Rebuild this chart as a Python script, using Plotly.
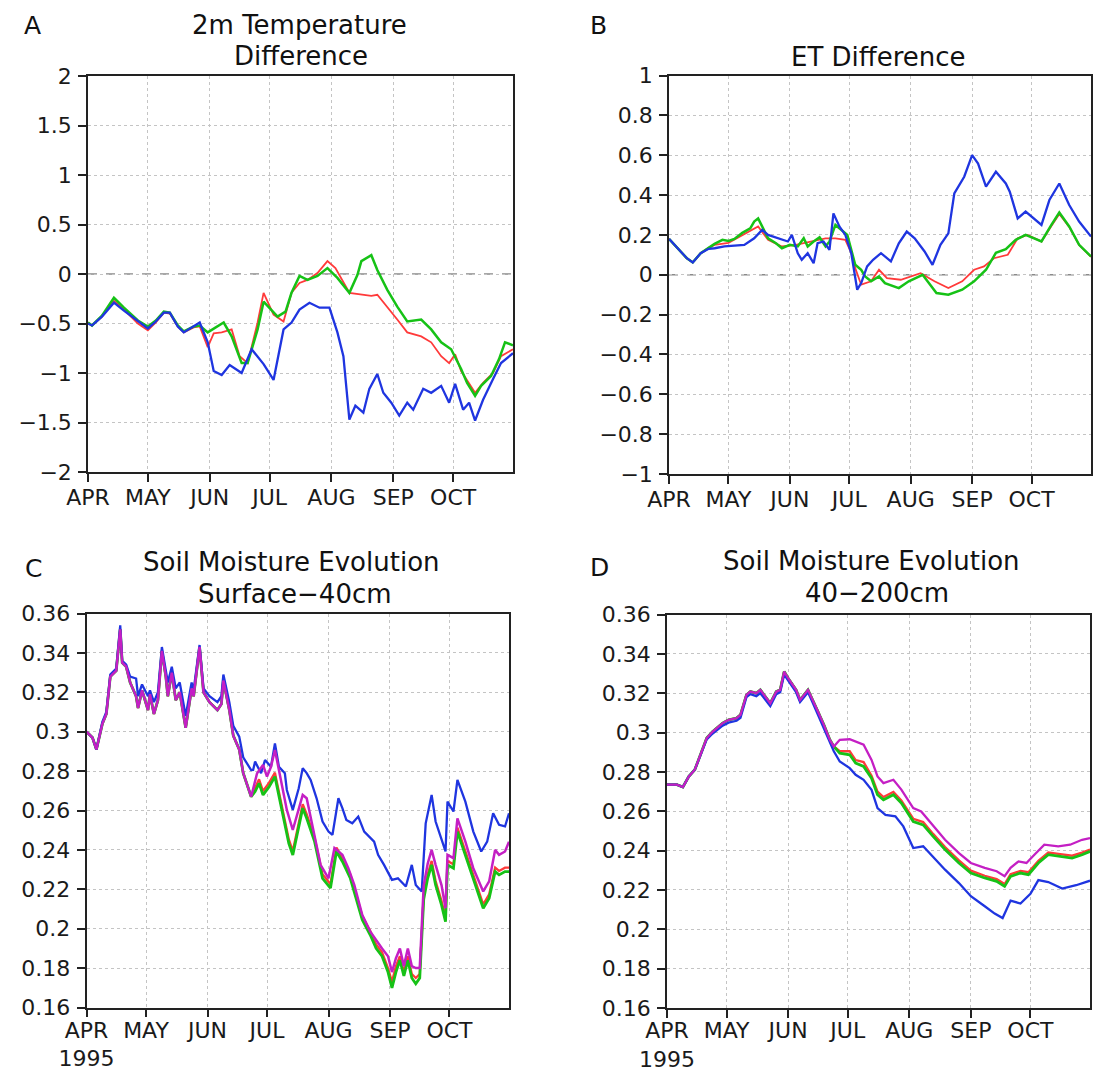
import pandas as pd
import plotly.graph_objects as go

# ---------------- data (days since 1 Apr 1995) ----------------
START = "1995-04-01"
month_ticks = ["1995-04-01", "1995-05-01", "1995-06-01", "1995-07-01",
               "1995-08-01", "1995-09-01", "1995-10-01"]
month_labels = ["APR", "MAY", "JUN", "JUL", "AUG", "SEP", "OCT"]
month_labels_year = ["APR<br>1995", "MAY", "JUN", "JUL", "AUG", "SEP", "OCT"]

# Panel A: 2m temperature difference
A_green_days = [0, 2, 7, 13, 18, 25, 30, 34, 38, 41, 45, 48, 53, 56,
                60, 64, 68, 72, 77, 80, 85, 88, 95, 99, 102, 106, 110, 115, 120, 125, 131, 135, 137, 142,
                145, 150, 155, 160, 167, 172, 177, 182, 187, 190, 194, 197, 202, 206, 209, 213]
A_green_vals = [-0.49, -0.52, -0.42, -0.24, -0.34, -0.47, -0.53, -0.47, -0.38, -0.39, -0.52, -0.58, -0.53, -0.52,
                -0.59, -0.54, -0.49, -0.63, -0.90, -0.90, -0.56, -0.28, -0.43, -0.38, -0.19, -0.02, -0.06, -0.02,
                0.06, -0.04, -0.19, -0.01, 0.13, 0.19, 0.04, -0.16, -0.33, -0.48, -0.46, -0.56, -0.69, -0.76,
                -0.96, -1.10, -1.23, -1.13, -1.03, -0.86, -0.69, -0.72]
A_red_days = [0, 2, 7, 13, 18, 25, 30, 34, 38, 41, 45, 48, 53, 56,
              60, 63, 67, 72, 76, 80, 85, 88, 93, 98, 102, 106, 110, 115, 120, 124, 131, 137, 142, 145,
              150, 155, 160, 167, 172, 177, 181, 184, 187, 192, 194, 198, 203, 207, 213]
A_red_vals = [-0.49, -0.52, -0.43, -0.27, -0.36, -0.50, -0.57, -0.49, -0.39, -0.40, -0.53, -0.59, -0.54, -0.53,
              -0.74, -0.60, -0.59, -0.56, -0.83, -0.90, -0.49, -0.19, -0.41, -0.48, -0.19, -0.09, -0.06, 0.01,
              0.13, 0.06, -0.19, -0.21, -0.22, -0.21, -0.33, -0.46, -0.59, -0.63, -0.69, -0.83, -0.90, -0.81,
              -0.98, -1.13, -1.20, -1.10, -1.00, -0.83, -0.76]
A_blue_days = [0, 2, 7, 13, 18, 25, 30, 34, 38, 41, 45, 48, 53, 56,
               60, 63, 67, 71, 74, 77, 82, 88, 93, 98, 102, 106, 111, 116, 121, 125, 128, 131, 134, 138,
               141, 145, 148, 152, 156, 160, 163, 168, 172, 177, 181, 184, 188, 191, 194, 198, 203, 207, 213]
A_blue_vals = [-0.50, -0.52, -0.43, -0.29, -0.37, -0.48, -0.55, -0.48, -0.39, -0.39, -0.53, -0.59, -0.53, -0.49,
               -0.69, -0.98, -1.02, -0.92, -0.96, -1.00, -0.76, -0.91, -1.07, -0.56, -0.49, -0.36, -0.29, -0.34,
               -0.34, -0.59, -0.83, -1.47, -1.33, -1.40, -1.16, -1.01, -1.20, -1.30, -1.43, -1.30, -1.37, -1.16,
               -1.20, -1.13, -1.30, -1.11, -1.37, -1.30, -1.48, -1.27, -1.06, -0.90, -0.80]

# Panel B: ET difference
B_green_days = [0, 5, 9, 12, 16, 20, 23, 27, 30, 33, 37, 41, 43, 45, 48, 50, 54, 57, 61, 65,
                68, 70, 73, 76, 79, 81, 84, 86, 90, 92, 94, 97, 99, 102, 106, 109, 116, 121, 128, 135,
                141, 148, 154, 160, 165, 170, 175, 180, 183, 188, 193, 197, 202, 207, 213]
B_green_vals = [0.18, 0.125, 0.083, 0.062, 0.108, 0.135, 0.155, 0.175, 0.17, 0.18, 0.21, 0.233, 0.267, 0.283,
                0.225, 0.183, 0.158, 0.133, 0.15, 0.142, 0.183, 0.142, 0.167, 0.188, 0.142, 0.167, 0.25, 0.233,
                0.2, 0.125, 0.05, 0.025, -0.008, -0.033, -0.008, -0.042, -0.067, -0.033, 0.0, -0.092,
                -0.1, -0.075, -0.033, 0.025, 0.11, 0.128, 0.175, 0.2, 0.188, 0.167, 0.25, 0.312, 0.242, 0.15, 0.092]
B_red_days = [0, 5, 9, 12, 16, 20, 23, 30, 37, 45, 50, 57, 64, 71, 79, 84, 89, 92, 94, 97,
              102, 106, 110, 117, 127, 134, 141, 148, 154, 159, 164, 171, 176, 181, 188, 193, 197, 202, 207, 213]
B_red_vals = [0.18, 0.125, 0.083, 0.062, 0.108, 0.135, 0.15, 0.16, 0.2, 0.242, 0.175, 0.142, 0.15, 0.167,
              0.183, 0.183, 0.175, 0.11, 0.033, -0.05, -0.033, 0.025, -0.017, -0.025, 0.008, -0.033, -0.067,
              -0.033, 0.025, 0.042, 0.083, 0.1, 0.183, 0.2, 0.167, 0.245, 0.305, 0.24, 0.15, 0.09]
B_blue_days = [0, 5, 9, 12, 16, 20, 23, 28, 33, 38, 43, 47, 50, 55, 60, 62, 65, 67, 70, 73,
               75, 78, 81, 83, 86, 89, 92, 95, 97, 100, 103, 107, 112, 116, 120, 124, 129, 133, 137, 141,
               144, 149, 153, 156, 160, 165, 170, 172, 176, 180, 184, 188, 192, 197, 202, 207, 213]
B_blue_vals = [0.18, 0.125, 0.083, 0.062, 0.108, 0.13, 0.133, 0.142, 0.145, 0.15, 0.183, 0.225, 0.2, 0.183,
               0.167, 0.2, 0.108, 0.075, 0.108, 0.058, 0.158, 0.167, 0.125, 0.308, 0.242, 0.2, 0.108, -0.075,
               -0.042, 0.042, 0.075, 0.108, 0.067, 0.158, 0.217, 0.183, 0.117, 0.05, 0.15, 0.208,
               0.408, 0.492, 0.6, 0.558, 0.442, 0.517, 0.458, 0.417, 0.283, 0.317, 0.283, 0.25, 0.375, 0.458,
               0.35, 0.267, 0.192]

# Panel C: soil moisture surface-40cm
C_early_days = [0, 3, 5, 8, 10, 12, 15, 17, 18, 20, 22, 25, 26, 28, 31, 32, 34, 36, 38, 40,
                41, 43, 45, 47, 50, 53, 54, 57, 59, 62, 66, 68, 69, 72, 74, 77, 79, 83]
C_shared_early = [0.300, 0.297, 0.291, 0.304, 0.309, 0.328, 0.331, 0.352, 0.335, 0.333, 0.325, 0.318, 0.312,
                  0.321, 0.311, 0.319, 0.309, 0.316, 0.341, 0.328, 0.318, 0.330, 0.316, 0.320, 0.302, 0.322,
                  0.318, 0.343, 0.320, 0.315, 0.311, 0.314, 0.326, 0.311, 0.298, 0.291, 0.279, 0.267]
C_blue_early = [0.300, 0.297, 0.291, 0.305, 0.310, 0.329, 0.332, 0.354, 0.336, 0.334, 0.328, 0.327, 0.318,
                0.324, 0.318, 0.321, 0.315, 0.320, 0.343, 0.332, 0.325, 0.333, 0.322, 0.325, 0.308, 0.325,
                0.321, 0.344, 0.322, 0.318, 0.315, 0.318, 0.329, 0.315, 0.303, 0.2975, 0.287, 0.2805]
C_magenta_days = [86, 89, 91, 93, 95, 98, 101, 104, 106, 109, 111, 114, 118, 122, 125, 129, 132, 135, 139, 143,
                  146, 149, 152, 154, 156, 158, 160, 162, 164, 166, 168, 170, 172, 174, 176, 179, 181, 182, 185,
                  187, 191, 195, 200, 203, 206, 208, 211, 213]
C_magenta_vals = [0.2789, 0.2831, 0.2772, 0.2822, 0.2907, 0.2755, 0.2603, 0.2501, 0.2569, 0.2679, 0.2662,
                  0.251, 0.2324, 0.2256, 0.2409, 0.2375, 0.2307, 0.2222, 0.207, 0.1986, 0.194, 0.190, 0.186,
                  0.178, 0.185, 0.190, 0.181, 0.190, 0.181, 0.180, 0.180, 0.222, 0.233, 0.240, 0.2324, 0.222,
                  0.2104, 0.2375, 0.2358, 0.256, 0.2442, 0.2307, 0.2189, 0.224, 0.240, 0.2375, 0.2392, 0.2442]
C_green_days = [85, 87, 89, 92, 95, 97, 100, 102, 104, 106, 109, 111, 115, 119, 123, 126, 129, 133, 136, 139,
                143, 146, 149, 152, 154, 156, 158, 160, 162, 164, 166, 168, 170, 172, 174, 176, 179, 181, 182,
                185, 187, 191, 195, 200, 203, 206, 208, 211, 213]
C_green_vals = [0.2696, 0.2738, 0.2679, 0.272, 0.2772, 0.267, 0.2535, 0.2433, 0.2374, 0.2467, 0.2612, 0.2561,
                0.2442, 0.2256, 0.2206, 0.2392, 0.2341, 0.2256, 0.2155, 0.2045, 0.1969, 0.190, 0.186, 0.178,
                0.170, 0.178, 0.184, 0.176, 0.184, 0.175, 0.172, 0.175, 0.215, 0.2256, 0.2324, 0.2222, 0.212,
                0.2036, 0.2324, 0.2307, 0.2493, 0.2375, 0.2248, 0.2104, 0.2155, 0.229, 0.2273, 0.229, 0.229]
C_red_vals = [0.2716, 0.2758, 0.2699, 0.274, 0.2792, 0.269, 0.2555, 0.2453, 0.2394, 0.2487, 0.2632, 0.2581,
              0.2462, 0.2276, 0.2226, 0.2412, 0.2361, 0.2276, 0.2175, 0.2065, 0.1989, 0.192, 0.188, 0.180,
              0.173, 0.181, 0.186, 0.178, 0.186, 0.177, 0.175, 0.177, 0.217, 0.2276, 0.2344, 0.2242, 0.214,
              0.2056, 0.2344, 0.2327, 0.2513, 0.2395, 0.2268, 0.2124, 0.2175, 0.231, 0.2293, 0.231, 0.231]
C_blue_days = [84, 85, 88, 90, 93, 95, 97, 100, 101, 104, 106, 107, 109, 111, 113, 116, 119, 122, 124, 127,
               129, 131, 134, 137, 140, 145, 147, 150, 154, 157, 161, 164, 166, 169, 171, 174, 176, 181, 182,
               185, 187, 191, 195, 199, 202, 205, 208, 211, 213]
C_blue_vals = [0.2806, 0.2848, 0.2789, 0.2856, 0.2822, 0.294, 0.2822, 0.2789, 0.2704, 0.2603, 0.267, 0.2713,
               0.2815, 0.279, 0.2755, 0.2662, 0.2544, 0.2493, 0.2476, 0.2662, 0.2612, 0.2552, 0.2535, 0.2569,
               0.2493, 0.2442, 0.2375, 0.2324, 0.2248, 0.2256, 0.2214, 0.2324, 0.2222, 0.2189, 0.2535, 0.2679,
               0.2544, 0.2392, 0.2645, 0.2595, 0.2755, 0.2645, 0.2493, 0.2392, 0.2442, 0.2586, 0.2527, 0.2519,
               0.2586]

# Panel D: soil moisture 40-200cm
D_early_days = [0, 5, 8, 11, 14, 17, 20, 23, 25, 28, 31, 35, 37, 40, 42, 45, 47, 50, 52, 55,
                57, 59, 61, 65, 67, 71, 73, 76, 79, 82, 84]
D_shared_early = [0.2735, 0.2735, 0.2723, 0.2777, 0.2811, 0.2895, 0.2972, 0.3005, 0.3022, 0.3048, 0.3065,
                  0.3073, 0.309, 0.3191, 0.3208, 0.32, 0.3217, 0.3175, 0.3149, 0.3208, 0.3217, 0.331, 0.3276,
                  0.3217, 0.3166, 0.3217, 0.3175, 0.3107, 0.3039, 0.2963, 0.2929]
D_blue_early = [0.2735, 0.2735, 0.2723, 0.2777, 0.2811, 0.2890, 0.2965, 0.2995, 0.3010, 0.3035, 0.3050,
                0.3060, 0.3075, 0.3180, 0.3195, 0.3185, 0.3200, 0.3160, 0.3135, 0.3195, 0.3205, 0.3295, 0.3265,
                0.3205, 0.3155, 0.3205, 0.3160, 0.3090, 0.3020, 0.2945, 0.2905]
D_magenta_days = [87, 92, 95, 99, 103, 106, 109, 114, 118, 124, 128, 133, 140, 147, 153, 160, 166, 170, 173,
                  177, 181, 185, 190, 197, 203, 209, 213]
D_magenta_vals = [0.2963, 0.2966, 0.2954, 0.2938, 0.2861, 0.2777, 0.2743, 0.276, 0.271, 0.2616, 0.2599, 0.254,
                  0.2455, 0.2387, 0.2337, 0.2312, 0.2295, 0.227, 0.2312, 0.2345, 0.2337, 0.2379, 0.243, 0.2422,
                  0.243, 0.2455, 0.2464]
D_green_days = [87, 92, 95, 99, 103, 106, 109, 114, 118, 124, 129, 134, 140, 147, 153, 160, 166, 170, 173,
                178, 182, 187, 192, 198, 204, 209, 213]
D_green_vals = [0.2895, 0.2887, 0.2845, 0.2828, 0.2768, 0.2684, 0.2658, 0.2684, 0.2642, 0.2548, 0.2531,
                0.2472, 0.2405, 0.2337, 0.2286, 0.2261, 0.2244, 0.2218, 0.2269, 0.2286, 0.2278, 0.2337, 0.2379,
                0.2371, 0.2362, 0.2379, 0.2396]
D_red_vals = [0.2905, 0.2905, 0.2860, 0.2850, 0.2780, 0.2700, 0.2672, 0.2698, 0.2655, 0.2562, 0.2545, 0.2485,
              0.2418, 0.2350, 0.2298, 0.2272, 0.2255, 0.2230, 0.2280, 0.2297, 0.2290, 0.2348, 0.2390, 0.2382,
              0.2374, 0.2390, 0.2405]
D_blue_days = [87, 92, 95, 99, 103, 106, 110, 115, 119, 124, 129, 133, 140, 147, 153, 160, 165, 169, 173,
               178, 183, 187, 192, 199, 206, 213]
D_blue_vals = [0.2853, 0.2819, 0.2785, 0.276, 0.2709, 0.2616, 0.2582, 0.2574, 0.2523, 0.2413, 0.2422, 0.2379,
               0.2303, 0.2235, 0.2168, 0.2117, 0.208, 0.2057, 0.2146, 0.2131, 0.218, 0.225, 0.224, 0.2207,
               0.2224, 0.2247]

A_ticks = [-2, -1.5, -1, -0.5, 0, 0.5, 1, 1.5, 2]
A_ticktext = ["\u22122", "\u22121.5", "\u22121", "\u22120.5", "0", "0.5", "1", "1.5", "2"]
B_ticks = [-1, -0.8, -0.6, -0.4, -0.2, 0, 0.2, 0.4, 0.6, 0.8, 1]
B_ticktext = ["\u22121", "\u22120.8", "\u22120.6", "\u22120.4", "\u22120.2", "0", "0.2", "0.4", "0.6", "0.8", "1"]
CD_ticks = [0.16, 0.18, 0.2, 0.22, 0.24, 0.26, 0.28, 0.3, 0.32, 0.34, 0.36]
CD_ticktext = ["0.16", "0.18", "0.2", "0.22", "0.24", "0.26", "0.28", "0.3", "0.32", "0.34", "0.36"]

# ---------------- styling ----------------
W, H = 1095, 1078
BLUE, RED, GREEN, MAGENTA = "#1f35e0", "#ff3a3a", "#16c216", "#c41fc4"
FONT = "DejaVu Sans"


def to_dates(days):
    return pd.Timestamp(START) + pd.to_timedelta(days, unit="D")


def px_x(p):
    return p / W


def px_y(p):
    return 1 - p / H


fig = go.Figure()


def add(days, vals, color, width, ax):
    fig.add_trace(go.Scatter(x=to_dates(days), y=vals, mode="lines",
                             line=dict(color=color, width=width),
                             xaxis="x" + ax, yaxis="y" + ax, showlegend=False,
                             hoverinfo="skip"))


# Panel A
add(A_red_days, A_red_vals, RED, 1.8, "")
add(A_green_days, A_green_vals, GREEN, 2.5, "")
add(A_blue_days, A_blue_vals, BLUE, 2.3, "")
# Panel B
add(B_red_days, B_red_vals, RED, 1.8, "2")
add(B_green_days, B_green_vals, GREEN, 2.5, "2")
add(B_blue_days, B_blue_vals, BLUE, 2.3, "2")
# Panel C
add(C_early_days + C_green_days, C_shared_early + C_red_vals, RED, 2.3, "3")
add(C_early_days + C_green_days, C_shared_early + C_green_vals, GREEN, 2.8, "3")
add(C_early_days + C_blue_days, C_blue_early + C_blue_vals, BLUE, 2.3, "3")
add(C_early_days + C_magenta_days, C_shared_early + C_magenta_vals, MAGENTA, 2.5, "3")
# Panel D
add(D_early_days + D_green_days, D_shared_early + D_red_vals, RED, 2.3, "4")
add(D_early_days + D_green_days, D_shared_early + D_green_vals, GREEN, 2.8, "4")
add(D_early_days + D_blue_days, D_blue_early + D_blue_vals, BLUE, 2.3, "4")
add(D_early_days + D_magenta_days, D_shared_early + D_magenta_vals, MAGENTA, 2.3, "4")

x_end = pd.Timestamp(START) + pd.Timedelta(days=213)

common_axis = dict(showline=True, linecolor="#222222", linewidth=1.5, mirror=True,
                   ticks="outside", ticklen=8, tickwidth=1.5, tickcolor="#222222",
                   showgrid=True, gridcolor="#c4c4c4", gridwidth=1, griddash="dot",
                   zeroline=False, automargin=False,
                   tickfont=dict(family=FONT, size=22, color="#1a1a1a"))


def xaxis(domain, anchor, labels, standoff):
    d = dict(common_axis)
    d.update(domain=domain, anchor=anchor, type="date",
             range=[pd.Timestamp(START), x_end],
             tickvals=month_ticks, ticktext=labels, ticklabelstandoff=standoff)
    return d


def yaxis(domain, anchor, rng, tv, tt):
    d = dict(common_axis)
    d.update(domain=domain, anchor=anchor, range=rng, tickvals=tv, ticktext=tt,
             ticklabelstandoff=2)
    return d


# plot boxes in pixels: (left, right, top, bottom)
boxA = (88, 513, 76, 472)
boxB = (669, 1091, 75.5, 474)
boxC = (86.5, 509, 613.5, 1007.5)
boxD = (667, 1090, 614.5, 1008)


def dom(box):
    l, r, t, b = box
    return [px_x(l), px_x(r)], [px_y(b), px_y(t)]


xa, ya = dom(boxA)
xb, yb = dom(boxB)
xc, yc = dom(boxC)
xd, yd = dom(boxD)

fig.update_layout(
    width=W, height=H, autosize=False,
    margin=dict(l=0, r=0, t=0, b=0, pad=0),
    paper_bgcolor="white", plot_bgcolor="white",
    showlegend=False,
    xaxis=xaxis(xa, "y", month_labels, -3),
    yaxis=yaxis(ya, "x", [-2, 2], A_ticks, A_ticktext),
    xaxis2=xaxis(xb, "y2", month_labels, -3),
    yaxis2=yaxis(yb, "x2", [-1, 1], B_ticks, B_ticktext),
    xaxis3=xaxis(xc, "y3", month_labels_year, -6),
    yaxis3=yaxis(yc, "x3", [0.16, 0.36], CD_ticks, CD_ticktext),
    xaxis4=xaxis(xd, "y4", month_labels_year, -6),
    yaxis4=yaxis(yd, "x4", [0.16, 0.36], CD_ticks, CD_ticktext),
)

# dashed zero lines in A and B
for xr, yr in (("x domain", "y"), ("x2 domain", "y2")):
    fig.add_shape(type="line", xref=xr, yref=yr, x0=0, x1=1, y0=0, y1=0,
                  line=dict(color="#8a8a8a", width=1.5, dash="dash"), layer="below")

TITLE = dict(family=FONT, size=26, color="#111111")
LETTER = dict(family=FONT, size=25, color="#111111")
texts = [
    ("A", 32, 26, LETTER),
    ("B", 598, 25, LETTER),
    ("C", 33, 568, LETTER),
    ("D", 599, 567, LETTER),
    ("2m Temperature", 299, 25, TITLE),
    ("Difference", 301, 56, TITLE),
    ("ET Difference", 878, 57, TITLE),
    ("Soil Moisture Evolution", 291, 562, TITLE),
    ("Surface\u221240cm", 295, 594, TITLE),
    ("Soil Moisture Evolution", 871, 561, TITLE),
    ("40\u2212200cm", 877, 593, TITLE),
]
for txt, x, y, f in texts:
    fig.add_annotation(text=txt, x=px_x(x), y=px_y(y), xref="paper", yref="paper",
                       xanchor="center", yanchor="middle", showarrow=False, font=f)

fig.write_html("out.html",
               config={"displayModeBar": False},
               post_script="document.body.style.margin='0px';document.body.style.overflow='hidden';")
